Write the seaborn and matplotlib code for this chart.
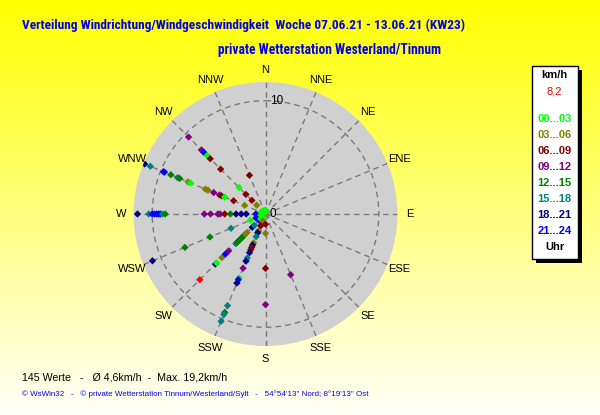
import numpy as np
import pandas as pd
import matplotlib
matplotlib.use("Agg")
import matplotlib.pyplot as plt
import seaborn as sns
from matplotlib.patches import Rectangle

# --- data ----------------------------------------------------------------
compass = ["N", "NNE", "NE", "ENE", "E", "ESE", "SE", "SSE",
           "S", "SSW", "SW", "WSW", "W", "WNW", "NW", "NNW"]

hour_classes = ["00...03", "03...06", "06...09", "09...12",
                "12...15", "15...18", "18...21", "21...24"]
class_colors = ["#00FF00", "#808000", "#800000", "#800080",
                "#008000", "#008080", "#000080", "#0000FF"]

current_speed = "8,2"

# one entry per plotted value: direction, speed (km/h), time class
point_dir = (
    ["W"] * 21 + ["WNW"] * 18 + ["NW"] * 11 + ["NNW"] * 2 + ["N"] * 2
    + ["WSW"] * 7 + ["SW"] * 19 + ["SSW"] * 22 + ["S"] * 4 + ["SSE"] * 1
)
point_speed = [
    # W
    11.3, 10.3, 10.0, 9.8, 9.6, 9.45, 9.3, 9.1, 8.85, 5.4, 4.85, 4.2, 4.0,
    3.6, 3.1, 2.6, 2.15, 1.7, 0.85, 0.5, 0.3,
    # WNW
    11.55, 11.0, 9.75, 9.65, 9.05, 8.4, 8.2, 7.4, 7.15, 5.75, 5.5, 4.95,
    4.4, 4.2, 3.9, 3.05, 2.0, 0.4,
    # NW
    9.6, 8.0, 7.7, 7.3, 6.9, 5.6, 3.3, 2.45, 1.7, 1.1, 0.4,
    # NNW
    3.7, 0.3,
    # N
    0.2, 0.35,
    # WSW
    10.8, 7.7, 5.3, 3.3, 1.45, 0.55, 0.9,
    # SW
    6.25, 6.1, 5.45, 5.0, 4.6, 3.7, 3.55, 3.4, 3.25, 3.1, 2.95, 2.8,
    2.65, 2.5, 2.3, 1.65, 1.4, 0.8, 0.6,
    # SSW
    0.5, 0.65, 1.13, 1.63, 1.6, 1.8, 2.17, 2.75, 2.97, 3.2, 3.43, 3.7,
    4.2, 4.5, 5.18, 6.1, 6.27, 6.6, 8.75, 9.4, 9.6, 10.25,
    # S
    0.9, 1.7, 4.8, 8.0,
    # SSE
    5.8,
]
point_hours = [
    # W
    "18...21", "15...18", "21...24", "21...24", "21...24", "21...24",
    "21...24", "15...18", "12...15", "09...12", "09...12", "09...12",
    "09...12", "06...09", "12...15", "18...21", "18...21", "18...21",
    "21...24", "21...24", "00...03",
    # WNW
    "18...21", "15...18", "21...24", "21...24", "12...15", "15...18",
    "12...15", "03...06", "00...03", "03...06", "03...06", "09...12",
    "09...12", "06...09", "00...03", "06...09", "03...06", "00...03",
    # NW
    "09...12", "09...12", "21...24", "00...03", "06...09", "06...09",
    "00...03", "06...09", "06...09", "03...06", "00...03",
    # NNW
    "06...09", "00...03",
    # N
    "00...03", "00...03",
    # WSW
    "18...21", "12...15", "12...15", "15...18", "00...03", "00...03",
    "21...24",
    # SW
    "18...21", "00...03", "03...06", "21...24", "09...12", "15...18",
    "12...15", "12...15", "12...15", "12...15", "12...15", "12...15",
    "12...15", "03...06", "03...06", "18...21", "15...18", "21...24",
    "00...03",
    # SSW
    "00...03", "03...06", "06...09", "15...18", "03...06", "18...21",
    "15...18", "03...06", "18...21", "06...09", "06...09", "18...21",
    "15...18", "18...21", "09...12", "00...03", "21...24", "18...21",
    "15...18", "12...15", "15...18", "15...18",
    # S
    "06...09", "03...06", "06...09", "09...12",
    # SSE
    "09...12",
]
# latest value (shown in red)
last_dir = "SW"
last_speed = 8.2

df = pd.DataFrame({"dir": point_dir, "speed": point_speed, "hours": point_hours})
df.loc[len(df)] = [last_dir, last_speed, "aktuell"]
df["theta"] = np.deg2rad(df["dir"].map({d: i * 22.5 for i, d in enumerate(compass)}))

palette = dict(zip(hour_classes, class_colors))
palette["aktuell"] = "#FF0000"

# --- figure ---------------------------------------------------------------
W, H = 600, 415
fig = plt.figure(figsize=(W / 100, H / 100), dpi=100)

# yellow gradient background
bg = fig.add_axes([0, 0, 1, 1], zorder=-10)
grad = np.linspace(0, 1, 256).reshape(-1, 1)
rgb = np.ones((256, 1, 3))
rgb[:, :, 2] = grad * 0.97
bg.imshow(rgb, aspect="auto", extent=[0, 1, 0, 1])
bg.set_axis_off()

cx, cy, rad = 265.5, 214, 132
ax = fig.add_axes([(cx - rad) / W, (H - cy - rad) / H, 2 * rad / W, 2 * rad / H],
                  projection="polar")
ax.set_theta_zero_location("N")
ax.set_theta_direction(-1)
ax.set_facecolor("#D0D0D0")
ax.spines["polar"].set_visible(False)

sns.scatterplot(data=df, x="theta", y="speed", hue="hours", palette=palette,
                marker="D", s=14, linewidth=0, legend=False, ax=ax, zorder=3)

ax.set_ylim(0, 11.65)
ax.set_xlabel("")
ax.set_ylabel("")
ax.set_yticks([10])
ax.set_yticklabels([])
ax.set_xticks(np.deg2rad(np.arange(16) * 22.5))
ax.set_xticklabels(compass, fontsize=8, family=["Liberation Sans", "DejaVu Sans"])
ax.tick_params(axis="x", length=0, pad=2)
ax.grid(True, color="#7A7A7A", linestyle=(0, (4, 3)), linewidth=1)

lbl_font = dict(fontsize=8.5, family=["Liberation Sans", "DejaVu Sans"])
ax.annotate("10", (0, 10), xytext=(3, 0), textcoords="offset points",
            ha="left", va="center", **lbl_font)
ax.annotate("0", (0, 0), xytext=(3, 0), textcoords="offset points",
            ha="left", va="center", **lbl_font)

# --- texts ----------------------------------------------------------------
renderer = fig.canvas.get_renderer()


def ftext(x, y, s, width=None, **kw):
    t = fig.text(x / W, 1 - y / H, s, va="center", **kw)
    if width:
        w = t.get_window_extent(renderer).width
        t.set_fontsize(t.get_fontsize() * width / w)
    return t


narrow = ["Roboto Condensed", "Archivo Narrow", "Liberation Sans", "DejaVu Sans"]
sans = ["Liberation Sans", "DejaVu Sans"]
ftext(22, 25, "Verteilung Windrichtung/Windgeschwindigkeit  Woche 07.06.21 - 13.06.21 (KW23)",
      width=443, fontsize=9, weight="bold", color="#0000EE", family=narrow)
ftext(218, 50, "private Wetterstation Westerland/Tinnum",
      width=225, fontsize=9, weight="bold", color="#0000EE", family=narrow)
ftext(22, 377, "145 Werte   -   Ø 4,6km/h  -  Max. 19,2km/h",
      width=204, fontsize=7.5, color="black", family=sans)
ftext(22, 394, "© WsWin32   -   © private Wetterstation Tinnum/Westerland/Sylt   -   "
      "54°54'13\" Nord; 8°19'13\" Ost",
      width=349, fontsize=6, color="#0000FF", family=sans)

# legend box with shadow
bx0, by0, bx1, by1 = 531.5, 66.5, 577.5, 259
fig.patches.append(Rectangle(((bx0 + 4) / W, (H - by1 - 4) / H), (bx1 - bx0) / W,
                             (by1 - by0) / H, transform=fig.transFigure,
                             facecolor="black", edgecolor="none", zorder=1))
fig.patches.append(Rectangle((bx0 / W, (H - by1) / H), (bx1 - bx0) / W,
                             (by1 - by0) / H, transform=fig.transFigure,
                             facecolor="white", edgecolor="black", linewidth=1,
                             zorder=2))
lx = (bx0 + bx1) / 2
ftext(lx, 75.5, "km/h", ha="center", fontsize=8, weight="bold", color="black",
      family=sans, zorder=3)
ftext(lx, 92, current_speed, ha="center", fontsize=8, color="#FF0000",
      family=sans, zorder=3)
for i, (lab, col) in enumerate(zip(hour_classes, class_colors)):
    ftext(lx, 119 + i * 16, lab, ha="center", fontsize=8, weight="bold",
          color=col, family=sans, zorder=3)
ftext(lx, 247, "Uhr", ha="center", fontsize=8, weight="bold", color="black",
      family=sans, zorder=3)

fig.savefig("out.png", dpi=100)
